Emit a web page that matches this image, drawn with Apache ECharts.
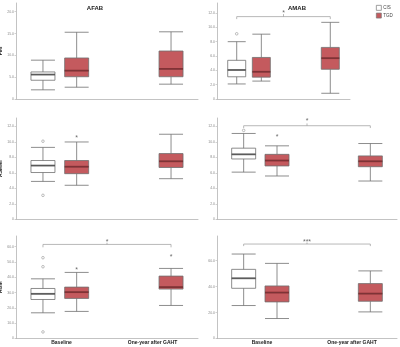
<!DOCTYPE html>
<html>
<head>
<meta charset="utf-8">
<script src="https://cdn.jsdelivr.net/npm/echarts@6/dist/echarts.min.js"></script>
<style>
  html, body { margin: 0; padding: 0; background: #fff; }
  #chart { width: 400px; height: 347px; }
</style>
</head>
<body>
<div id="chart"></div>
<script>
const categories = ["Baseline", "One-year after GAHT"];
const groups = ["CIS", "TGD"];

// box stats per category: [min, Q1, median, Q3, max], null = no box
const fmiAfabCis = [[2.1, 4.3, 5.6, 6.2, 8.9], null];
const fmiAfabTgd = [[2.7, 5.1, 6.5, 9.4, 15.3], [3.4, 5.1, 6.9, 11.0, 15.4]];
const fmiAmabCis = [[2.1, 3.1, 4.05, 5.4, 8.0], null];
const fmiAmabTgd = [[2.5, 3.05, 3.8, 5.8, 9.05], [0.8, 4.15, 5.7, 7.2, 10.7]];
const asmmiAfabCis = [[4.9, 6.05, 6.95, 7.6, 9.3], null];
const asmmiAfabTgd = [[4.4, 5.9, 6.8, 7.6, 10.0], [5.25, 6.7, 7.5, 8.5, 11.0]];
const asmmiAmabCis = [[6.1, 7.8, 8.4, 9.2, 11.1], null];
const asmmiAmabTgd = [[5.6, 6.9, 7.6, 8.4, 9.5], [4.95, 6.8, 7.5, 8.2, 9.8]];
const hgmAfabCis = [[16.8, 25.5, 29.2, 32.7, 39.0], null];
const hgmAfabTgd = [[17.7, 26.2, 30.3, 33.6, 43.2], [21.6, 32.3, 33.6, 40.8, 45.8]];
const hgmAmabCis = [[25.4, 38.7, 46.4, 53.3, 65.1], null];
const hgmAmabTgd = [[15.4, 28.2, 35.4, 40.5, 57.9], [20.5, 28.7, 34.6, 42.3, 52.1]];

// outliers (circles) and extremes (asterisks): [group, category, value]
const fmiAmabOutliers = [[0, 0, 9.1]];
const asmmiAfabOutliers = [[0, 0, 10.1], [0, 0, 3.1]];
const asmmiAmabOutliers = [[0, 0, 11.5]];
const hgmAfabOutliers = [[0, 0, 52.8], [0, 0, 46.9], [0, 0, 4.3]];
const asmmiAfabExtremes = [[1, 0, 10.7]];
const asmmiAmabExtremes = [[1, 0, 10.9]];
const hgmAfabExtremes = [[1, 0, 45.8], [1, 1, 54.5]];

// y tick labels
const fmiAfabTicks = [0, 5, 10, 15, 20];
const fmiAmabTicks = [0, 2, 4, 6, 8, 10, 12];
const asmmiTicks = [0, 2, 4, 6, 8, 10, 12];
const hgmAfabTicks = [0, 10, 20, 30, 40, 50, 60];
const hgmAmabTicks = [0, 20, 40, 60];

// significance, CIS baseline vs TGD one-year
const fmiAmabSig = "*";
const asmmiAmabSig = "*";
const hgmAfabSig = "*";
const hgmAmabSig = "***";

const font = "Liberation Sans";
const slotMax = 27;
// slot of each box on the hidden axis: [group][category]
const slots = [[4, 18], [9, 23]];
const boxFill = ["#ffffff", "#c45a5e"];
const medianColor = ["#4a4a4a", "#7a2529"];

const panels = [
  { yName: "FMI", boxes: [fmiAfabCis, fmiAfabTgd], out: [], ext: [], ticks: fmiAfabTicks, max: 22,
    left: 16, top: 3, width: 182, height: 96, sig: null },
  { yName: "", boxes: [fmiAmabCis, fmiAmabTgd], out: fmiAmabOutliers, ext: [], ticks: fmiAmabTicks, max: 13.4,
    left: 217, top: 3, width: 133, height: 96, sig: fmiAmabSig, bar: 11.5, end: 11.15, tick: 11.85, star: 12.3 },
  { yName: "ASMMI", boxes: [asmmiAfabCis, asmmiAfabTgd], out: asmmiAfabOutliers, ext: asmmiAfabExtremes, ticks: asmmiTicks, max: 13.1,
    left: 16, top: 118, width: 182, height: 101.3, sig: null },
  { yName: "", boxes: [asmmiAmabCis, asmmiAmabTgd], out: asmmiAmabOutliers, ext: asmmiAmabExtremes, ticks: asmmiTicks, max: 13.1,
    left: 217, top: 118, width: 180, height: 101.3, sig: asmmiAmabSig, bar: 12.1, end: 11.8, tick: 12.4, star: 13.0 },
  { yName: "HGM", boxes: [hgmAfabCis, hgmAfabTgd], out: hgmAfabOutliers, ext: hgmAfabExtremes, ticks: hgmAfabTicks, max: 67,
    left: 16, top: 236, width: 182, height: 102.5, sig: hgmAfabSig, bar: 61.5, end: 59.6, tick: 62.6, star: 64.6 },
  { yName: "", boxes: [hgmAmabCis, hgmAmabTgd], out: [], ext: [], ticks: hgmAmabTicks, max: 79,
    left: 217, top: 236, width: 180, height: 102.5, sig: hgmAmabSig, bar: 72.8, end: 71.2, tick: 74, star: 76.0 },
];

const chart = echarts.init(document.getElementById("chart"));
const grids = [], xAxes = [], yAxes = [], series = [];

panels.forEach((p, i) => {
  const bw = Math.round(p.width * 0.132);
  const slotAxis = 3 * i + 1;
  grids.push({ left: p.left, top: p.top, width: p.width, height: p.height, outerBoundsMode: "none" });
  xAxes.push({
    gridIndex: i, type: "category", data: categories,
    axisLine: { lineStyle: { color: "#b4b4b4", width: 0.8 } },
    axisTick: { show: false },
    axisLabel: { show: i >= 4, fontSize: 5, fontWeight: "bold", color: "#222", margin: 2, fontFamily: font },
  });
  xAxes.push({ gridIndex: i, type: "value", min: 0, max: slotMax, show: false });
  xAxes.push({ gridIndex: i, type: "value", min: 0, max: slotMax, show: false });
  yAxes.push({
    gridIndex: i, type: "value", min: 0, max: p.max,
    name: p.yName, nameLocation: "middle", nameGap: 11,
    nameTextStyle: { fontSize: 5, fontWeight: "bold", color: "#222", fontFamily: font },
    splitLine: { show: false },
    axisLine: { show: true, lineStyle: { color: "#b4b4b4", width: 0.8 } },
    axisTick: { show: true, length: 1.5, customValues: p.ticks, lineStyle: { color: "#b4b4b4", width: 0.6 } },
    axisLabel: {
      customValues: p.ticks, fontSize: 3.5, color: "#8a8a8a", margin: 2, fontFamily: font,
      formatter: (v) => (v === 0 ? "0" : v.toFixed(1)),
    },
  });

  groups.forEach((g, gi) => {
    const stats = p.boxes[gi];
    const boxData = [], medData = [];
    stats.forEach((s, ci) => {
      if (!s) return;
      boxData.push([slots[gi][ci]].concat(s));
      medData.push([slots[gi][ci], s[2]]);
    });
    series.push({
      type: "boxplot", name: g, xAxisIndex: slotAxis + gi, yAxisIndex: i,
      boxWidth: [bw, bw], data: boxData, silent: true,
      itemStyle: { color: boxFill[gi], borderColor: "#707070", borderWidth: 0.8 },
    });
    series.push({
      type: "scatter", xAxisIndex: slotAxis + gi, yAxisIndex: i, silent: true, z: 5,
      symbol: "rect", symbolSize: [bw, 1.8], itemStyle: { color: medianColor[gi] }, data: medData,
    });
  });

  if (p.out.length) {
    series.push({
      type: "scatter", xAxisIndex: slotAxis, yAxisIndex: i, silent: true,
      symbol: "circle", symbolSize: 2.6,
      itemStyle: { color: "#ffffff", borderColor: "#7a7a7a", borderWidth: 0.6 },
      data: p.out.map((o) => [slots[o[0]][o[1]], o[2]]),
    });
  }
  if (p.ext.length) {
    series.push({
      type: "scatter", xAxisIndex: slotAxis, yAxisIndex: i, silent: true,
      symbol: "circle", symbolSize: 1, itemStyle: { color: "rgba(0,0,0,0)" },
      label: { show: true, position: "inside", formatter: "*", fontSize: 7, color: "#444", offset: [0, 2], fontFamily: font },
      data: p.ext.map((o) => [slots[o[0]][o[1]], o[2]]),
    });
  }
  if (p.sig) {
    const x0 = slots[0][0], x1 = slots[1][1], xm = (x0 + x1) / 2;
    series.push({
      type: "line", xAxisIndex: slotAxis, yAxisIndex: i, silent: true, symbol: "none",
      lineStyle: { color: "#9a9a9a", width: 0.7 },
      data: [[x0, p.end], [x0, p.bar], [x1, p.bar], [x1, p.end]],
    });
    series.push({
      type: "line", xAxisIndex: slotAxis, yAxisIndex: i, silent: true, symbol: "none",
      lineStyle: { color: "#9a9a9a", width: 0.7 },
      data: [[xm, p.bar], [xm, p.tick]],
    });
    series.push({
      type: "scatter", xAxisIndex: slotAxis, yAxisIndex: i, silent: true,
      symbol: "circle", symbolSize: 1, itemStyle: { color: "rgba(0,0,0,0)" },
      label: { show: true, position: "inside", formatter: p.sig, fontSize: 7, color: "#444", offset: [0, 2], fontFamily: font },
      data: [[xm, p.star]],
    });
  }
});

const option = {
  animation: false,
  title: [
    { text: "AFAB", left: 90, top: 0, textAlign: "center", textStyle: { fontSize: 6, fontWeight: "bold", color: "#222", fontFamily: font } },
    { text: "AMAB", left: 292, top: 0, textAlign: "center", textStyle: { fontSize: 6, fontWeight: "bold", color: "#222", fontFamily: font } },
  ],
  legend: {
    data: [
      { name: "CIS", itemStyle: { color: "#fff", borderColor: "#777", borderWidth: 0.7 } },
      { name: "TGD", itemStyle: { color: boxFill[1], borderColor: "#777", borderWidth: 0.7 } },
    ],
    orient: "vertical", left: 376, top: 5, padding: 0,
    icon: "rect", itemWidth: 5, itemHeight: 5, itemGap: 2, selectedMode: false,
    textStyle: { fontSize: 4.5, color: "#444", fontFamily: font, padding: [0, 0, 0, -3] },
  },
  grid: grids,
  xAxis: xAxes,
  yAxis: yAxes,
  series: series,
};

chart.setOption(option);
</script>
</body>
</html>
